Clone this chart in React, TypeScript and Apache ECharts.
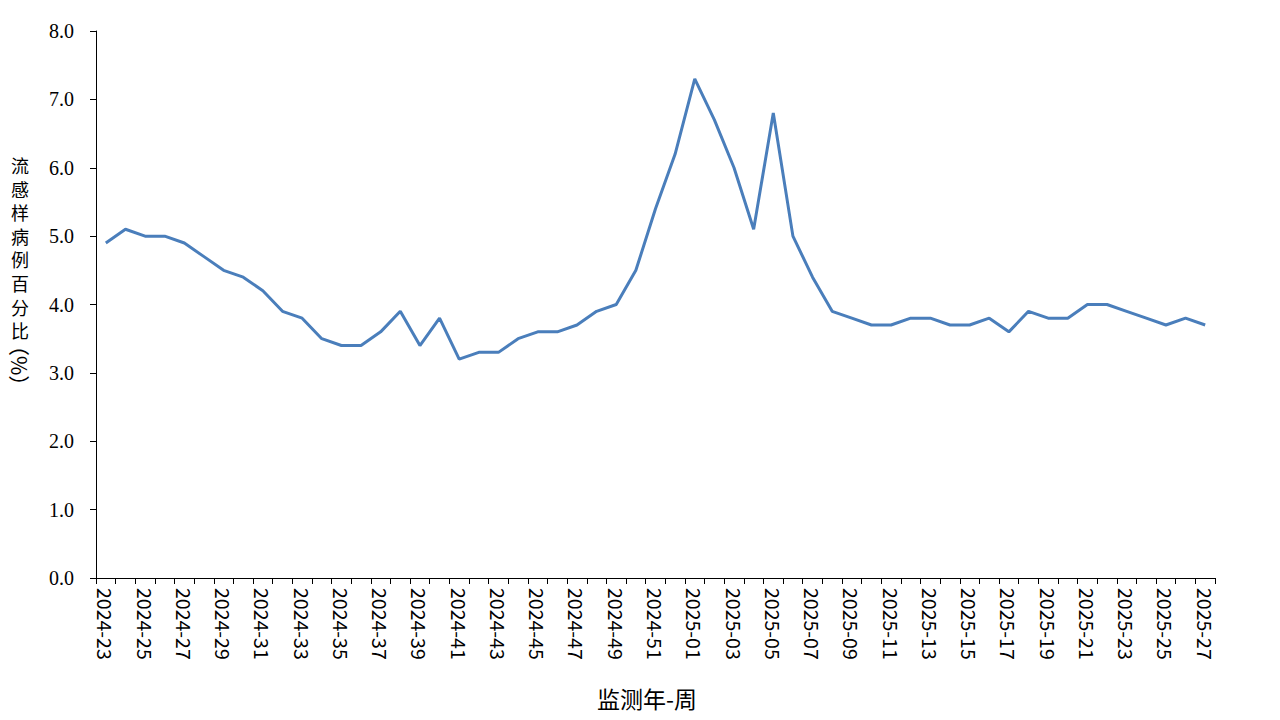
import React, { useEffect, useRef } from "react";
import * as echarts from "echarts";

const weeks2024: string[] = [];
for (let w = 23; w <= 52; w++) weeks2024.push(`2024-${String(w).padStart(2, "0")}`);
const weeks2025: string[] = [];
for (let w = 1; w <= 27; w++) weeks2025.push(`2025-${String(w).padStart(2, "0")}`);
const categories = [...weeks2024, ...weeks2025];

const iliPercent = [
  4.9, 5.1, 5.0, 5.0, 4.9, 4.7, 4.5, 4.4, 4.2, 3.9,
  3.8, 3.5, 3.4, 3.4, 3.6, 3.9, 3.4, 3.8, 3.2, 3.3,
  3.3, 3.5, 3.6, 3.6, 3.7, 3.9, 4.0, 4.5, 5.4, 6.2,
  7.3, 6.7, 6.0, 5.1, 6.8, 5.0, 4.4, 3.9, 3.8, 3.7,
  3.7, 3.8, 3.8, 3.7, 3.7, 3.8, 3.6, 3.9, 3.8, 3.8,
  4.0, 4.0, 3.9, 3.8, 3.7, 3.8, 3.7,
];

const yTicks = [0, 1, 2, 3, 4, 5, 6, 7, 8];
const yAxisTitle = ["流", "感", "样", "病", "例", "百", "分", "比"];
const yAxisUnit = "（%）";
const xAxisTitle = "监测年-周";

export default function App() {
  const ref = useRef<HTMLDivElement>(null);
  useEffect(() => {
    if (!ref.current) return;
    const chart = echarts.init(ref.current, null, { renderer: "svg" });
    const titleChars = yAxisTitle.map((ch, i) => ({
      type: "text",
      x: 20,
      y: 165 + i * 23.6,
      style: {
        text: ch,
        fontSize: 18,
        fontFamily: "Noto Sans CJK SC",
        fill: "#000",
        textAlign: "center",
        textVerticalAlign: "middle",
      },
    }));
    chart.setOption({
      animation: false,
      backgroundColor: "#ffffff",
      grid: { left: 96, right: 65, top: 31, bottom: 142, containLabel: false },
      xAxis: {
        type: "category",
        data: categories,
        boundaryGap: true,
        axisLine: { lineStyle: { color: "#000", width: 1 } },
        axisTick: { show: true, interval: 0, length: 6, lineStyle: { color: "#000" } },
        axisLabel: {
          interval: 1,
          rotate: -90,
          color: "#000",
          fontSize: 19.5,
          fontFamily: "Noto Sans CJK SC",
          margin: 10,
        },
        splitLine: { show: false },
      },
      yAxis: {
        type: "value",
        min: yTicks[0],
        max: yTicks[yTicks.length - 1],
        interval: 1,
        axisLine: { show: true, lineStyle: { color: "#000", width: 1 } },
        axisTick: { show: true, length: 6, lineStyle: { color: "#000" } },
        axisLabel: {
          color: "#000",
          fontSize: 20,
          fontFamily: "Liberation Serif",
          margin: 22,
          formatter: (v: number) => v.toFixed(1),
        },
        splitLine: { show: false },
      },
      series: [
        {
          type: "line",
          data: iliPercent,
          symbol: "none",
          lineStyle: { color: "#4a7ebb", width: 3 },
        },
      ],
      graphic: [
        ...titleChars,
        {
          type: "text",
          x: 20,
          y: 335,
          rotation: -Math.PI / 2,
          style: {
            text: yAxisUnit,
            fontSize: 21,
            fontFamily: "Noto Sans CJK SC",
            fill: "#000",
            textAlign: "left",
            textVerticalAlign: "middle",
          },
        },
        {
          type: "text",
          left: 597,
          top: 686,
          style: {
            text: xAxisTitle,
            fontSize: 23,
            fontFamily: "Noto Sans CJK SC",
            fill: "#000",
          },
        },
      ],
    });
    return () => chart.dispose();
  }, []);
  return (
    <div
      ref={ref}
      style={{ position: "fixed", left: 0, top: 0, width: 1280, height: 720 }}
    />
  );
}
